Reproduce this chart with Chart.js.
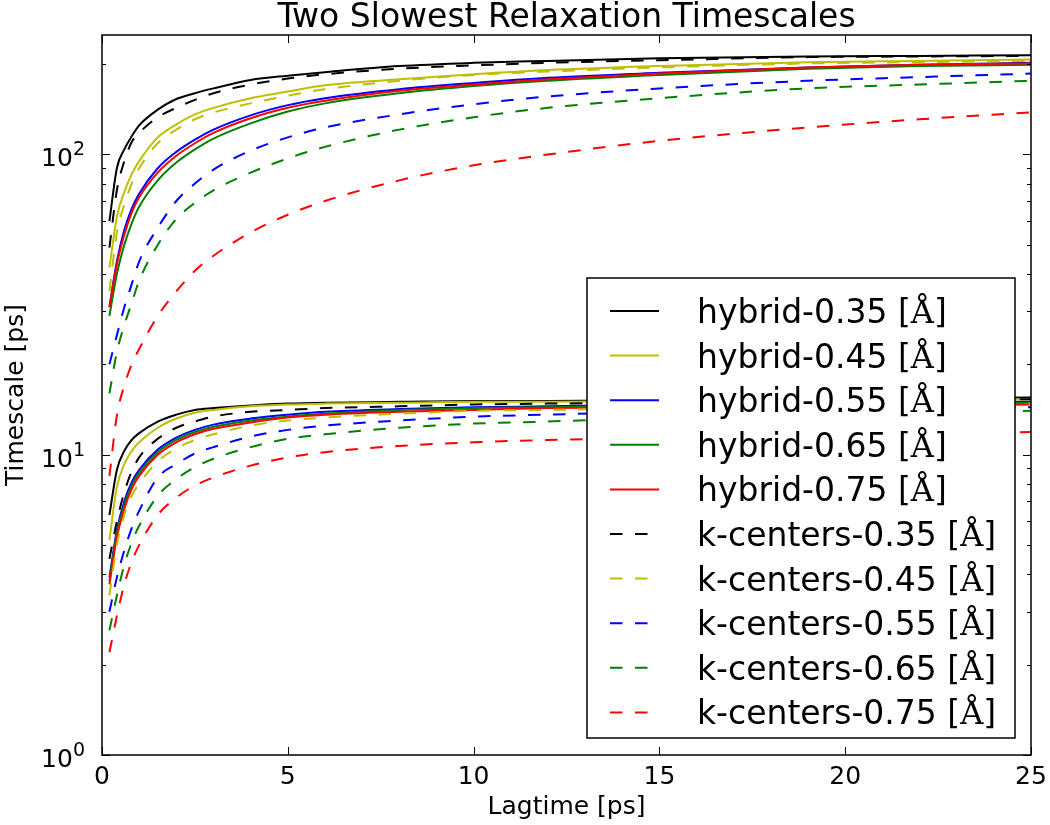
<!DOCTYPE html>
<html>
<head>
<meta charset="utf-8">
<title>Two Slowest Relaxation Timescales</title>
<script src="https://cdn.jsdelivr.net/npm/chart.js@4.4.0/dist/chart.umd.min.js"></script>
<style>
  html, body { margin: 0; padding: 0; background: #fff; }
  #wrap { width: 1050px; height: 825px; }
</style>
</head>
<body>
<div id="wrap"><canvas id="timescales" width="1050" height="825"></canvas></div>
<script>
"use strict"

// lagtimes [ps]
const lagtimes = [0.2, 0.4, 0.6, 0.8, 1, 1.5, 2, 2.5, 3, 4, 5, 6, 8, 10, 12, 15, 19, 22, 25]

// slowest timescale [ps]
const hybrid035Slow = [60, 90, 104, 115, 125, 141, 153, 160, 166, 177, 183, 188, 197, 202, 205, 209, 212, 213, 214]
const hybrid045Slow = [42, 62, 75, 86, 95, 114, 126, 136, 143, 154, 162, 170, 178, 185, 191, 197, 203, 205, 207]
const hybrid055Slow = [31, 44, 56, 66, 74, 90, 102, 112, 121, 135, 146, 154, 165, 173, 180, 187, 195, 199, 202]
const hybrid065Slow = [29, 40, 50, 59, 67, 82, 94, 104, 113, 127, 139, 148, 160, 169, 176, 184, 193, 197, 199]
const hybrid075Slow = [31, 43, 54, 64, 72, 87, 99, 109, 118, 132, 143, 151, 163, 171, 178, 186, 195, 199, 201]
const kcenters035Slow = [49, 76, 95, 110, 118, 133, 143, 152, 160, 171, 179, 185, 193, 198, 202, 206, 211, 212, 213]
const kcenters045Slow = [35, 55, 68, 80, 90, 109, 121, 131, 138, 148, 157, 165, 176, 184, 189, 195, 201, 203, 205]
const kcenters055Slow = [20, 25, 31, 37, 44, 57, 70, 80, 89, 103, 114, 123, 136, 147, 156, 166, 176, 181, 186]
const kcenters065Slow = [16, 22, 27, 32, 38, 50, 61, 69, 76, 87, 97, 106, 121, 133, 143, 154, 166, 171, 176]
const kcenters075Slow = [8.5, 13.5, 17, 20, 22.5, 29, 35, 41, 46, 55, 63, 70, 82, 92, 100, 111, 123, 131, 138]

// second slowest timescale [ps]
const hybrid035Second = [6.3, 8.9, 10.3, 11.2, 11.8, 12.9, 13.6, 14.1, 14.3, 14.6, 14.8, 14.9, 15.0, 15.1, 15.1, 15.2, 15.3, 15.4, 15.5]
const hybrid045Second = [5.2, 7.8, 9.3, 10.3, 11.0, 12.3, 13.2, 13.8, 14.1, 14.5, 14.7, 14.8, 14.9, 15.0, 15.0, 15.1, 15.2, 15.2, 15.3]
const hybrid055Second = [3.9, 5.6, 7.0, 8.1, 8.9, 10.4, 11.4, 12.1, 12.6, 13.2, 13.6, 13.9, 14.2, 14.4, 14.5, 14.7, 14.8, 14.9, 15.0]
const hybrid065Second = [3.8, 5.5, 6.8, 7.9, 8.7, 10.2, 11.2, 11.9, 12.4, 13.0, 13.4, 13.7, 14.1, 14.3, 14.4, 14.6, 14.7, 14.8, 14.9]
const hybrid075Second = [3.7, 5.3, 6.6, 7.7, 8.5, 10.0, 11.0, 11.7, 12.2, 12.8, 13.3, 13.6, 13.9, 14.1, 14.3, 14.4, 14.5, 14.6, 14.7]
const kcenters035Second = [4.5, 6.0, 7.5, 8.8, 9.8, 11.3, 12.3, 12.9, 13.4, 13.9, 14.1, 14.3, 14.5, 14.7, 14.8, 14.9, 15.1, 15.2, 15.3]
const kcenters045Second = [3.4, 5.0, 6.3, 7.3, 8.0, 9.5, 10.5, 11.2, 11.7, 12.5, 13.0, 13.3, 13.7, 14.0, 14.1, 14.3, 14.5, 14.7, 14.8]
const kcenters055Second = [3.0, 3.9, 4.8, 5.7, 6.5, 8.4, 9.3, 10.1, 10.6, 11.5, 12.1, 12.5, 13.0, 13.4, 13.6, 13.9, 14.1, 14.3, 14.4]
const kcenters065Second = [2.6, 3.4, 4.3, 5.1, 5.8, 7.3, 8.3, 9.1, 9.7, 10.6, 11.3, 11.7, 12.3, 12.7, 12.9, 13.3, 13.6, 13.8, 14.0]
const kcenters075Second = [2.2, 2.9, 3.7, 4.4, 5.0, 6.3, 7.2, 7.9, 8.4, 9.2, 9.8, 10.2, 10.7, 11.0, 11.2, 11.4, 11.6, 11.8, 11.9]

const seriesLabels = [
  "hybrid-0.35", "hybrid-0.45", "hybrid-0.55", "hybrid-0.65", "hybrid-0.75",
  "k-centers-0.35", "k-centers-0.45", "k-centers-0.55", "k-centers-0.65", "k-centers-0.75",
]
const slowCurves = [
  hybrid035Slow, hybrid045Slow, hybrid055Slow, hybrid065Slow, hybrid075Slow,
  kcenters035Slow, kcenters045Slow, kcenters055Slow, kcenters065Slow, kcenters075Slow,
]
const secondCurves = [
  hybrid035Second, hybrid045Second, hybrid055Second, hybrid065Second, hybrid075Second,
  kcenters035Second, kcenters045Second, kcenters055Second, kcenters065Second, kcenters075Second,
]

// axis ticks
const xTicks = [0, 5, 10, 15, 20, 25]
const yDecades = [0, 1, 2]

const colors = ["#000000", "#bfbf00", "#0000ff", "#008000", "#ff0000"]
const dash = [12.5, 12.5]
const sans = "'DejaVu Sans', sans-serif"
const serif = "'DejaVu Serif', 'Liberation Serif', serif"

// build the datasets: each series has a slow and a second-slowest curve
const datasets = []
seriesLabels.forEach((name, i) => {
  const dashed = i >= 5
  const style = {
    label: name,
    borderColor: colors[i % 5],
    borderWidth: 2,
    borderDash: dashed ? dash : [],
    pointRadius: 0,
    fill: false,
    tension: 0.4,
    cubicInterpolationMode: "monotone",
  }
  datasets.push({ ...style, data: lagtimes.map((t, k) => ({ x: t, y: slowCurves[i][k] })) })
  datasets.push({ ...style, data: lagtimes.map((t, k) => ({ x: t, y: secondCurves[i][k] })) })
})
// later series are drawn on top, as in the original
datasets.forEach((d, i) => { d.order = datasets.length - i })

function line(ctx, x1, y1, x2, y2) {
  ctx.beginPath()
  ctx.moveTo(x1, y1)
  ctx.lineTo(x2, y2)
  ctx.stroke()
}

// frame, inward ticks, tick labels, title, axis labels and legend
const decorations = {
  id: "decorations",
  afterDatasetsDraw(chart) {
    const { ctx, chartArea: a, scales } = chart
    const x = scales.x
    const y = scales.y
    ctx.save()
    ctx.strokeStyle = "#000"
    ctx.fillStyle = "#000"
    ctx.lineWidth = 1

    // x ticks top and bottom
    xTicks.forEach((v) => {
      const px = Math.round(x.getPixelForValue(v)) + 0.5
      line(ctx, px, a.bottom, px, a.bottom - 8)
      line(ctx, px, a.top, px, a.top + 8)
    })
    // y ticks, major and minor, left and right
    yDecades.forEach((d) => {
      for (let m = 1; m <= 9; m++) {
        const v = m * Math.pow(10, d)
        if (v > y.max) break
        const py = Math.round(y.getPixelForValue(v)) + 0.5
        const len = m === 1 ? 8 : 4
        line(ctx, a.left, py, a.left + len, py)
        line(ctx, a.right, py, a.right - len, py)
      }
    })

    // frame
    ctx.lineWidth = 1.5
    ctx.strokeRect(a.left, a.top, a.right - a.left, a.bottom - a.top)

    // x tick labels
    ctx.font = "25px " + sans
    ctx.textAlign = "center"
    ctx.textBaseline = "alphabetic"
    xTicks.forEach((v) => {
      ctx.fillText(String(v), x.getPixelForValue(v), a.bottom + 29)
    })
    // y tick labels 10^d
    yDecades.forEach((d) => {
      const py = y.getPixelForValue(Math.pow(10, d))
      ctx.textAlign = "right"
      ctx.font = "19px " + sans
      const sup = String(d)
      const supW = ctx.measureText(sup).width
      ctx.fillText(sup, 85, py + 1)
      ctx.font = "25px " + sans
      ctx.fillText("10", 85 - supW, py + 12)
    })

    // title and axis labels
    const cx = (a.left + a.right) / 2
    ctx.textAlign = "center"
    ctx.font = "33px " + sans
    ctx.fillText("Two Slowest Relaxation Timescales", cx, 27)
    ctx.font = "25px " + sans
    ctx.fillText("Lagtime [ps]", cx, 814)
    ctx.save()
    ctx.translate(23, (a.top + a.bottom) / 2)
    ctx.rotate(-Math.PI / 2)
    ctx.fillText("Timescale [ps]", 0, 0)
    ctx.restore()

    // legend, lower right
    const boxW = 428
    const boxH = 460
    const bx = a.right - 16 - boxW
    const by = a.bottom - 17 - boxH
    ctx.fillStyle = "#fff"
    ctx.fillRect(bx, by, boxW, boxH)
    ctx.lineWidth = 1.5
    ctx.strokeStyle = "#000"
    ctx.strokeRect(bx, by, boxW, boxH)
    seriesLabels.forEach((name, i) => {
      const ds = chart.data.datasets[i * 2]
      const ly = by + 33 + i * 44.6
      ctx.strokeStyle = ds.borderColor
      ctx.lineWidth = 2
      ctx.setLineDash(ds.borderDash)
      line(ctx, bx + 23, ly, bx + 72, ly)
      ctx.setLineDash([])
      ctx.fillStyle = "#000"
      ctx.textAlign = "left"
      let tx = bx + 110
      const base = ly + 12
      ctx.font = "33px " + sans
      const head = name + " ["
      ctx.fillText(head, tx, base)
      tx += ctx.measureText(head).width
      ctx.font = "32px " + serif
      ctx.fillText("\u00C5", tx, base)
      tx += ctx.measureText("\u00C5").width
      ctx.font = "33px " + sans
      ctx.fillText("]", tx, base)
    })
    ctx.restore()
  },
}

const timescaleChart = new Chart(document.getElementById("timescales"), {
  type: "line",
  data: { datasets: datasets },
  options: {
    responsive: false,
    maintainAspectRatio: false,
    devicePixelRatio: 1,
    animation: false,
    layout: { padding: { top: 35, right: 19, bottom: 0, left: 0 } },
    plugins: {
      legend: { display: false },
      title: { display: false },
      tooltip: { enabled: false },
    },
    scales: {
      x: {
        type: "linear",
        min: 0,
        max: 25,
        grid: { display: false },
        border: { display: false },
        ticks: { display: false },
        afterFit: (s) => { s.height = 70 },
      },
      y: {
        type: "logarithmic",
        min: 1,
        max: 250,
        grid: { display: false },
        border: { display: false },
        ticks: { display: false },
        afterFit: (s) => { s.width = 102 },
      },
    },
  },
  plugins: [decorations],
})
</script>
</body>
</html>
